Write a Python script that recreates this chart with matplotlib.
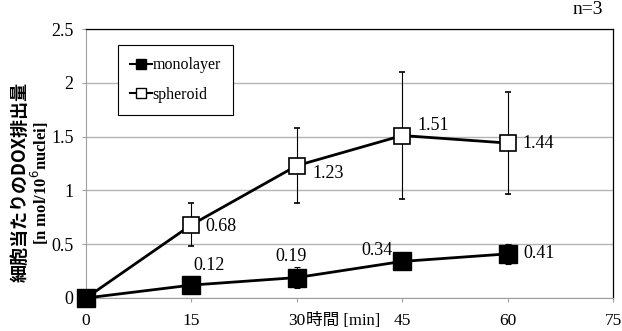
import matplotlib
matplotlib.use('Agg')
import matplotlib.pyplot as plt
from matplotlib.lines import Line2D

plt.rcParams['font.family'] = ['Liberation Serif', 'Noto Sans CJK JP', 'DejaVu Sans']

# data
time_min = [0, 15, 30, 45, 60]
mono = [0.0, 0.12, 0.19, 0.34, 0.41]
mono_err = [0.0, 0.02, 0.10, 0.03, 0.09]
sph = [0.0, 0.68, 1.23, 1.51, 1.44]
sph_err = [0.0, 0.20, 0.35, 0.59, 0.47]
mono_labels = ['', '0.12', '0.19', '0.34', '0.41']
sph_labels = ['', '0.68', '1.23', '1.51', '1.44']

# label offsets in pixels (dx, dy)
mono_off = [(0, 0), (18, 20), (-6, 21), (-25, 11), (31, 0)]
sph_off = [(0, 0), (30, -2), (31, -8), (31, 10), (31, 0)]

fig = plt.figure(figsize=(6.22, 3.31), dpi=100)
ax = fig.add_axes([86/622, 33/331, 527/622, 269/331])

ax.set_xlim(0, 75)
ax.set_ylim(0, 2.5)
ax.set_xticks([0, 15, 30, 45, 60, 75])
ax.set_yticks([0, 0.5, 1, 1.5, 2, 2.5])
ax.set_yticklabels(['0', '0.5', '1', '1.5', '2', '2.5'])
ax.grid(axis='y', color='#b4b4b4', lw=1)
ax.set_axisbelow(True)

for s in ['left', 'bottom']:
    ax.spines[s].set_color('#a0a0a0')
for s in ['top', 'right']:
    ax.spines[s].set_color('black')
    ax.spines[s].set_linewidth(0.9)
ax.tick_params(axis='x', length=3, color='#a0a0a0', pad=7.5, labelsize=12.5)
ax.tick_params(axis='y', length=3, color='#a0a0a0', pad=6, labelsize=13)

ax.errorbar(time_min, mono, yerr=mono_err, color='black', lw=2, marker='s',
            ms=13, mfc='black', mec='black', ecolor='black', elinewidth=0.8,
            capsize=2.5, capthick=0.8, clip_on=False, zorder=4)
ax.errorbar(time_min, sph, yerr=sph_err, color='black', lw=2, marker='s',
            ms=11, mfc='white', mec='black', mew=1.2, ecolor='black', elinewidth=0.8,
            capsize=2.5, capthick=0.8, clip_on=False, zorder=3)

for x, y, t, o in zip(time_min, mono, mono_labels, mono_off):
    if t:
        ax.annotate(t, (x, y), xytext=o, textcoords='offset pixels',
                    ha='center', va='center', fontsize=13)
for x, y, t, o in zip(time_min, sph, sph_labels, sph_off):
    if t:
        ax.annotate(t, (x, y), xytext=o, textcoords='offset pixels',
                    ha='center', va='center', fontsize=13)

handles = [
    Line2D([], [], color='black', lw=1.5, marker='s', ms=7, mfc='black', mec='black'),
    Line2D([], [], color='black', lw=1.5, marker='s', ms=7, mfc='white', mec='black'),
]
leg = ax.legend(handles, ['monolayer', 'spheroid'], loc='upper left',
                bbox_to_anchor=(0.061, 0.94), fancybox=False, edgecolor='black',
                framealpha=1, fontsize=11.5, handlelength=1.4, handletextpad=0.0,
                labelspacing=0.85, borderpad=0.75, borderaxespad=0)
leg.get_frame().set_linewidth(0.8)

fig.text(20/622, 0.45, '細胞当たりのDOX排出量', rotation=90, ha='center', va='center',
         fontsize=13, fontweight='bold', family=['Noto Sans CJK JP', 'DejaVu Sans'])
fig.text(40/622, 0.447, '[n mol/10$^{6}$nuclei]', rotation=90, ha='center', va='center',
         fontsize=12, fontweight='bold')
fig.text(343/622, 10/331, '時間 [min]', ha='center', va='center', fontsize=12)
fig.text(588/622, 1 - 10/331, 'n=3', ha='center', va='center', fontsize=14)

fig.savefig('out.png', dpi=100)
